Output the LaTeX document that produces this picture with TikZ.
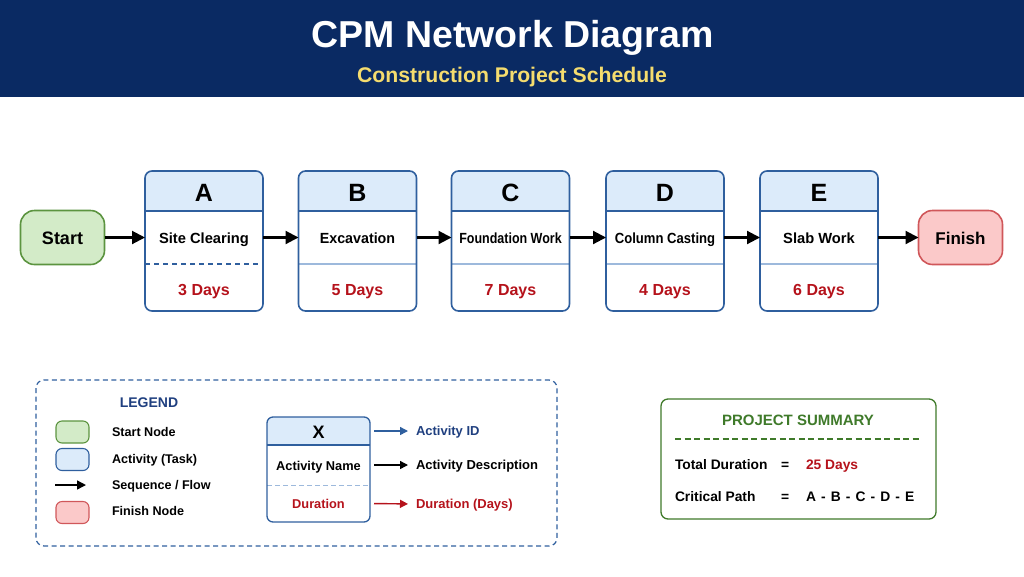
\documentclass[tikz,border=0pt]{standalone}
\usepackage{fontspec}
\setmainfont{Liberation Sans}
\usetikzlibrary{arrows.meta,positioning,backgrounds}

\definecolor{navyband}{HTML}{0A2A63}
\definecolor{titlegold}{HTML}{F5DC6E}
\definecolor{framblue}{HTML}{2F5F9E}
\definecolor{headblue}{HTML}{DCEBFA}
\definecolor{divblue}{HTML}{9DB9DC}
\definecolor{dayred}{HTML}{B5121B}
\definecolor{legendnavy}{HTML}{1F3F7F}
\definecolor{startfill}{HTML}{D3EBC8}
\definecolor{startdraw}{HTML}{5C9440}
\definecolor{finishfill}{HTML}{FBC9C9}
\definecolor{finishdraw}{HTML}{D0575A}
\definecolor{sumgreen}{HTML}{3F7A2A}

\begin{document}
\begin{tikzpicture}[
             x                = 1pt,
             y                = -1pt,
             every node/.style = {font=\bfseries, inner sep=0pt, outer sep=0pt},
             headcell/.style  = {minimum width=118pt, minimum height=40pt, text height=20pt, text depth=0pt, font=\bfseries\fontsize{25}{25}\selectfont},
             namecell/.style  = {minimum width=118pt, minimum height=53pt, text height=11pt, text depth=0pt, font=\bfseries\fontsize{14.7}{15}\selectfont},
             dayscell/.style  = {minimum width=118pt, minimum height=47pt, text height=16.5pt, text depth=0pt, text=dayred, font=\bfseries\fontsize{16}{16}\selectfont},
             actframe/.style  = {framblue, line width=1.6pt, rounded corners=7pt},
             dashdiv/.style   = {framblue, line width=1.1pt, dash pattern=on 5pt off 4pt},
             solidiv/.style   = {divblue, line width=1.1pt},
             flow/.style      = {line width=2.1pt, -{Triangle[length=13pt, width=13pt]}},
             endnode/.style   = {draw, line width=1.6pt, rounded corners=14pt, minimum width=84pt, minimum height=54pt, text height=13pt, text depth=0pt},
             swatch/.style    = {draw, line width=1.1pt, rounded corners=6pt, minimum width=33pt, minimum height=22pt},
             legtext/.style   = {anchor=west, text height=10pt, text depth=0.5pt, font=\bfseries\fontsize{12.6}{13}\selectfont},
             keytext/.style   = {legtext, font=\bfseries\fontsize{13}{13}\selectfont},
             sumtext/.style   = {legtext, font=\bfseries\fontsize{13.8}{14}\selectfont},
             keyflow/.style   = {line width=1.4pt, shorten >=8pt, shorten <=4pt, -{Triangle[length=8pt, width=8pt]}}]
             \useasboundingbox (0,0) rectangle (1024,576);
             \fill [navyband] (0,0) rectangle (1024,97);
             \node [text=white, text height=27pt, text depth=0pt, font=\bfseries\fontsize{37.5}{38}\selectfont] (title) at (512.5,34) {CPM Network Diagram};
             \node [text=titlegold, text height=15pt, text depth=0pt, font=\bfseries\fontsize{21.2}{21}\selectfont] (subtitle) at (512,75) {Construction Project Schedule};

             \foreach \id/\posx/\actname/\actdays/\divstyle/\hsqueeze in {A/204/Site Clearing/3 Days/dashdiv/1,
                    B/357.5/Excavation/5 Days/solidiv/.97, C/510.5/Foundation Work/7 Days/solidiv/.85,
                    D/665/Column Casting/4 Days/solidiv/.89, E/819/Slab Work/6 Days/solidiv/1} {
                \node [headcell] (head\id) at (\posx,191) {\id};
                \node [namecell, below=0pt of head\id] (name\id) {\scalebox{\hsqueeze}[1]{\actname}};
                \node [dayscell, below=0pt of name\id] (days\id) {\actdays};
                \begin{scope}[on background layer]
                   \fill [headblue] (head\id.south west) [rounded corners=7pt] -- (head\id.north west)
                          -- (head\id.north east) [sharp corners] -- (head\id.south east) -- cycle;
                \end{scope}
                \draw [\divstyle] (name\id.south west) -- (name\id.south east);
                \draw [actframe] (head\id.north west) rectangle (days\id.south east);
                \draw [framblue, line width=1.4pt] (head\id.south west) -- (head\id.south east);
             }

             \node [endnode, draw=startdraw, fill=startfill, font=\bfseries\fontsize{18}{18}\selectfont] (start) at (62.5,237.5) {Start};
             \node [endnode, draw=finishdraw, fill=finishfill, font=\bfseries\fontsize{17}{18}\selectfont] (finish) at (960.5,237.5) {Finish};
             \foreach \from/\to in {start/nameA, nameA/nameB, nameB/nameC, nameC/nameD, nameD/nameE, nameE/finish}
                \draw [flow] (\from.east) -- (\to.west);

             \draw [framblue, line width=1.2pt, rounded corners=8pt, dash pattern=on 5pt off 3.5pt] (36,380) rectangle (557,546);
             \node [text=legendnavy, text height=10pt, text depth=0pt, font=\bfseries\fontsize{14}{14}\selectfont] (legend) at (149,402) {LEGEND};
             \node [swatch, draw=startdraw, fill=startfill] (swstart) at (72.5,432) {};
             \node [swatch, draw=framblue, fill=headblue] (swact) at (72.5,459.5) {};
             \coordinate (flowa) at (55,485);
             \coordinate (flowb) at (86,485);
             \draw [line width=1.4pt, -{Triangle[length=9pt, width=9pt]}] (flowa) -- (flowb);
             \node [swatch, draw=finishdraw, fill=finishfill] (swfin) at (72.5,512.5) {};
             \node [legtext] (lgstart) at (112,432) {Start Node};
             \node [legtext] (lgact) at (112,458.5) {Activity (Task)};
             \node [legtext] (lgflow) at (112,485) {Sequence / Flow};
             \node [legtext] (lgfin) at (112,511) {Finish Node};

             \node [minimum width=103pt, minimum height=28pt, text height=14pt, text depth=0pt, font=\bfseries\fontsize{18}{18}\selectfont] (keyhead) at (318.5,431) {X};
             \node [minimum width=103pt, minimum height=40pt, text height=10pt, text depth=0pt, font=\bfseries\fontsize{12.8}{13}\selectfont, below=0pt of keyhead] (keyname) {Activity Name};
             \node [minimum width=103pt, minimum height=37pt, text height=10pt, text depth=0pt, text=dayred, font=\bfseries\fontsize{12.8}{13}\selectfont, below=0pt of keyname] (keydays) {Duration};
             \begin{scope}[on background layer]
                \fill [headblue] (keyhead.south west) [rounded corners=6pt] -- (keyhead.north west)
                       -- (keyhead.north east) [sharp corners] -- (keyhead.south east) -- cycle;
             \end{scope}
             \draw [divblue, line width=0.9pt, dash pattern=on 5pt off 3pt] (keyname.south west) -- (keyname.south east);
             \draw [framblue, line width=1.3pt, rounded corners=6pt] (keyhead.north west) rectangle (keydays.south east);
             \draw [framblue, line width=1.1pt] (keyhead.south west) -- (keyhead.south east);
             \node [keytext, text=legendnavy] (keyid) at (416,431) {Activity ID};
             \node [keytext] (keydesc) at (416,465) {Activity Description};
             \node [keytext, text=dayred] (keydur) at (416,504) {Duration (Days)};
             \draw [keyflow, framblue] (keyhead.east) -- (keyid.west);
             \draw [keyflow] (keyname.east) -- (keydesc.west);
             \draw [keyflow, dayred] (keydays.east) -- (keydur.west);

             \draw [sumgreen, line width=1.3pt, rounded corners=7pt] (661,399) rectangle (936,519);
             \node [text=sumgreen, text height=11pt, text depth=0pt, font=\bfseries\fontsize{15}{15}\selectfont] (sumtitle) at (798,419.5) {PROJECT SUMMARY};
             \coordinate (ruleleft) at (675,439);
             \coordinate (ruleright) at (922,439);
             \draw [sumgreen, line width=1.2pt, dash pattern=on 6pt off 3.5pt] (ruleleft) -- (ruleright);
             \node [sumtext] (totlabel) at (675,465) {Total Duration};
             \node [sumtext] (toteq) at (781,465) {=};
             \node [sumtext, text=dayred] (totval) at (806,465) {25 Days};
             \node [sumtext] (critlabel) at (675,497) {Critical Path};
             \node [sumtext] (criteq) at (781,497) {=};
             \node [sumtext] (critval) at (806,497) {\spaceskip=5.1pt A - B - C - D - E};
    \end{tikzpicture}
\end{document}
